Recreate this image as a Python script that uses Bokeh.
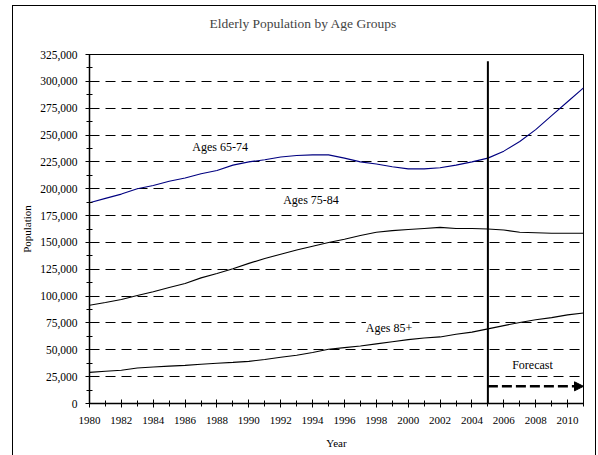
from bokeh.plotting import figure
from bokeh.models import (SingleIntervalTicker, NumeralTickFormatter, Label, Arrow,
                          NormalHead, Range1d, InlineStyleSheet, LinearAxis,
                          FixedTicker)
from bokeh.embed import file_html
from bokeh.resources import INLINE

# Population by age group, 1980-2011 (2006 onward is forecast)
years = list(range(1980, 2012))
ages_65_74 = [187000, 191000, 195000, 200000, 203000, 207000, 210000, 214000,
              217000, 222000, 225000, 227000, 229500, 231000, 231500, 231500,
              228500, 225000, 223000, 220500, 218500, 218500, 219500, 222000,
              225000, 228500, 235000, 244000, 255000, 268000, 281000, 294000]
ages_75_84 = [91500, 94000, 96800, 100500, 104000, 108000, 111800, 117000,
              121000, 125500, 130500, 135000, 139000, 143000, 146500, 150000,
              153000, 156500, 159500, 161000, 162000, 163000, 164000, 163000,
              163000, 162500, 161500, 159500, 159000, 158500, 158500, 158500]
ages_85_plus = [29000, 30000, 31000, 33000, 34000, 34800, 35500, 36500,
                37500, 38300, 39200, 41000, 43000, 45000, 47500, 50500,
                52000, 53500, 55500, 57500, 59500, 61000, 62000, 64500,
                66500, 69500, 72500, 75500, 78000, 80000, 82500, 84300]

forecast_start = 2005
forecast_end = 2011
divider_top = 318700
arrow_level = 16000

FONT = "Liberation Serif"

# frame drawn around the whole chart, open at the page's bottom edge
chart_border = InlineStyleSheet(css="""
:host { position: relative; }
:host::after {
  content: "";
  position: absolute;
  left: 12px; top: 5px; width: 584px; height: 450px;
  box-sizing: border-box;
  border: 1.5px solid black; border-bottom: none;
  pointer-events: none;
}
""")

p = figure(width=598, height=455, output_backend="svg", toolbar_location=None,
           x_range=Range1d(1980, 2011), y_range=Range1d(0, 325000),
           min_border_left=89, min_border_right=15, min_border_top=54,
           min_border_bottom=52, background_fill_color="white",
           border_fill_color="white", outline_line_color="black",
           outline_line_width=1, stylesheets=[chart_border])

p.title.text = "Elderly Population by Age Groups"
p.title.align = "left"
p.title.offset = 120
p.title.text_font = FONT
p.title.text_font_size = "13.5px"
p.title.text_font_style = "normal"
p.title.vertical_align = "bottom"
p.title.standoff = 10

# axes
bottom_axis = p.below[0]
left_axis = p.left[0]
bottom_axis.ticker = SingleIntervalTicker(interval=2, num_minor_ticks=2)
left_axis.ticker = SingleIntervalTicker(interval=25000, num_minor_ticks=2)
left_axis.formatter = NumeralTickFormatter(format="0,0")
for ax in (bottom_axis, left_axis):
    ax.axis_line_color = "black"
    ax.axis_line_width = 1.5
    ax.major_tick_line_color = "black"
    ax.minor_tick_line_color = "black"
    ax.major_tick_line_width = 1
    ax.minor_tick_line_width = 1
    ax.major_tick_in = 4
    ax.major_tick_out = 4
    ax.minor_tick_in = 3
    ax.minor_tick_out = 3
    ax.major_label_text_font = FONT
    ax.major_label_text_color = "black"
    ax.axis_label_text_font = FONT
    ax.axis_label_text_font_style = "normal"
    ax.axis_label_text_color = "black"
    ax.axis_label_text_font_size = "11px"
bottom_axis.major_label_text_font_size = "11px"
left_axis.major_label_text_font_size = "11.5px"
bottom_axis.axis_label = "Year"
left_axis.axis_label = "Population"
bottom_axis.major_label_standoff = 9
bottom_axis.axis_label_standoff = 10
left_axis.major_label_standoff = 8
left_axis.axis_label_standoff = 4

# unlabelled top axis with one invisible tick: keeps a gap between the
# heading and the plot frame
p.add_layout(LinearAxis(ticker=FixedTicker(ticks=[1995]), axis_line_color=None,
                        major_tick_line_color=None, minor_tick_line_color=None,
                        major_label_overrides={1995: ""},
                        major_tick_in=0, major_tick_out=19, minor_tick_out=0,
                        major_label_standoff=0), "above")

p.xgrid.grid_line_color = None
p.ygrid.grid_line_color = "black"
p.ygrid.grid_line_dash = "10 6"
p.ygrid.grid_line_width = 1

# series
p.line(years, ages_65_74, line_color="#000080", line_width=1.1)
p.line(years, ages_75_84, line_color="black", line_width=1.1)
p.line(years, ages_85_plus, line_color="black", line_width=1.1)

# forecast divider and arrow
p.line([forecast_start, forecast_start], [0, divider_top], line_color="black",
       line_width=2)
p.add_layout(Arrow(x_start=forecast_start, y_start=arrow_level,
                   x_end=forecast_end, y_end=arrow_level,
                   line_color="black", line_width=2.5, line_dash="10 4",
                   end=NormalHead(size=9, fill_color="black",
                                  line_color="black", line_width=1)))

labels = [("Ages 65-74", 1988.2, 239000), ("Ages 75-84", 1993.9, 189500),
          ("Ages 85+", 1998.8, 70000), ("Forecast", 2007.8, 35500)]
for txt, lx, ly in labels:
    p.add_layout(Label(x=lx, y=ly, text=txt, text_font=FONT,
                       text_font_size="12px", text_color="black",
                       text_align="center", text_baseline="middle",
                       background_fill_color="white" if txt == "Ages 85+" else None))

open("out.html", "w").write(file_html(p, INLINE))
